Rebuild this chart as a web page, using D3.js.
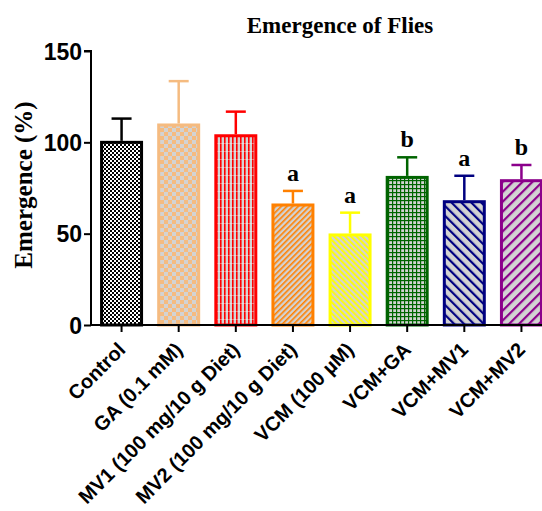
<!DOCTYPE html>
<html>
<head>
<meta charset="utf-8">
<script src="https://cdn.jsdelivr.net/npm/d3@7"></script>
<style>
  html, body { margin: 0; padding: 0; background: #fff; }
  svg { display: block; }
</style>
</head>
<body>
<svg id="chart" width="542" height="511"></svg>
<script>
// Groups, mean emergence (%) and SEM
const categories = [
  "Control",
  "GA (0.1 mM)",
  "MV1 (100 mg/10 g Diet)",
  "MV2 (100 mg/10 g Diet)",
  "VCM (100 \u00b5M)",
  "VCM+GA",
  "VCM+MV1",
  "VCM+MV2"
];
const means = [100, 109.5, 103.6, 65.7, 49.3, 80.8, 67.5, 79];
const sems = [13, 24, 13.2, 7.7, 12.2, 11, 14.2, 8.6];
const sigLetters = ["", "", "", "a", "a", "b", "a", "b"];
const yTicks = [0, 50, 100, 150];
const strokeColors = ["#000000", "#F5BB80", "#FF0000", "#FF8000", "#FFFF00", "#006400", "#000080", "#8B008B"];

const svg = d3.select("#chart");
const y = d3.scaleLinear().domain([0, 150]).range([325, 51]);
const x = d3.scaleBand().domain(categories).range([93, 550]).paddingInner(0.3).paddingOuter(0.15);

// Fill patterns, one per group
const defs = svg.append("defs");
const gray = "#D3D3D3";
function pat(id, w, h) {
  return defs.append("pattern").attr("id", id).attr("patternUnits", "userSpaceOnUse")
    .attr("width", w).attr("height", h);
}
// Control: fine black/white checkerboard
let p = pat("p0", 4, 4);
p.append("rect").attr("width", 4).attr("height", 4).attr("fill", "#fff");
p.append("rect").attr("width", 2).attr("height", 2).attr("fill", "#000");
p.append("rect").attr("x", 2).attr("y", 2).attr("width", 2).attr("height", 2).attr("fill", "#000");
// GA: orange/gray checkerboard
p = pat("p1", 8, 8);
p.append("rect").attr("width", 8).attr("height", 8).attr("fill", gray);
p.append("rect").attr("width", 4).attr("height", 4).attr("fill", "#F5BB80");
p.append("rect").attr("x", 4).attr("y", 4).attr("width", 4).attr("height", 4).attr("fill", "#F5BB80");
// MV1: vertical red lines
p = pat("p2", 4, 8);
p.append("rect").attr("width", 4).attr("height", 8).attr("fill", gray);
p.append("rect").attr("width", 1.6).attr("height", 8).attr("fill", "#FF0000");
p.append("rect").attr("y", 7).attr("width", 4).attr("height", 0.6).attr("fill", "#fff").attr("opacity", 0.6);
// MV2: thin orange "/" stripes
p = pat("p3", 4, 4).attr("patternTransform", "rotate(45)");
p.append("rect").attr("width", 4).attr("height", 4).attr("fill", gray);
p.append("rect").attr("width", 1.6).attr("height", 4).attr("fill", "#FF8000");
// VCM: yellow "\" stripes
p = pat("p4", 4, 4).attr("patternTransform", "rotate(-45)");
p.append("rect").attr("width", 4).attr("height", 4).attr("fill", gray);
p.append("rect").attr("width", 1.8).attr("height", 4).attr("fill", "#FFFF00");
// VCM+GA: green grid
p = pat("p5", 4, 4);
p.append("rect").attr("width", 4).attr("height", 4).attr("fill", gray);
p.append("rect").attr("width", 1.2).attr("height", 4).attr("fill", "#006400");
p.append("rect").attr("width", 4).attr("height", 1.2).attr("fill", "#006400");
// VCM+MV1: navy "\" stripes
p = pat("p6", 7, 7).attr("patternTransform", "rotate(-45)");
p.append("rect").attr("width", 7).attr("height", 7).attr("fill", gray);
p.append("rect").attr("width", 2.2).attr("height", 7).attr("fill", "#000080");
// VCM+MV2: purple "/" stripes
p = pat("p7", 7, 7).attr("patternTransform", "rotate(45)");
p.append("rect").attr("width", 7).attr("height", 7).attr("fill", gray);
p.append("rect").attr("width", 2.2).attr("height", 7).attr("fill", "#8B008B");

// Bars
svg.append("g").selectAll("rect").data(categories).join("rect")
  .attr("x", d => x(d))
  .attr("y", (d, i) => y(means[i]))
  .attr("width", x.bandwidth())
  .attr("height", (d, i) => y(0) - y(means[i]))
  .attr("fill", (d, i) => `url(#p${i})`)
  .attr("stroke", (d, i) => strokeColors[i])
  .attr("stroke-width", 3);

// Error bars (upper only)
const eb = svg.append("g").selectAll("g").data(categories).join("g")
  .attr("stroke", (d, i) => strokeColors[i]).attr("stroke-width", 2.5).attr("fill", "none");
eb.append("line")
  .attr("x1", d => x(d) + x.bandwidth() / 2).attr("x2", d => x(d) + x.bandwidth() / 2)
  .attr("y1", (d, i) => y(means[i]) - 1.5).attr("y2", (d, i) => y(means[i] + sems[i]));
eb.append("line")
  .attr("x1", d => x(d) + x.bandwidth() / 2 - 10).attr("x2", d => x(d) + x.bandwidth() / 2 + 10)
  .attr("y1", (d, i) => y(means[i] + sems[i])).attr("y2", (d, i) => y(means[i] + sems[i]));

// Significance letters
svg.append("g").selectAll("text").data(categories).join("text")
  .attr("x", d => x(d) + x.bandwidth() / 2)
  .attr("y", (d, i) => y(means[i] + sems[i]) - 10)
  .attr("text-anchor", "middle")
  .attr("font-family", "Liberation Serif, Times New Roman, serif")
  .attr("font-weight", "bold").attr("font-size", 24)
  .text((d, i) => sigLetters[i]);

// Y axis
const yAxis = svg.append("g").attr("transform", "translate(91,0)")
  .call(d3.axisLeft(y).tickValues(yTicks).tickSize(7).tickPadding(2));
yAxis.select(".domain").attr("stroke-width", 2).attr("d", `M-7,${y(150)}H0V${y(0)}`);
yAxis.selectAll(".tick line").attr("stroke-width", 2);
yAxis.selectAll(".tick text").attr("font-family", "Liberation Sans, Arial, sans-serif")
  .attr("font-weight", "bold").attr("font-size", 23).attr("fill", "#000").attr("dy", "0.35em");

// X axis
const xAxis = svg.append("g").attr("transform", `translate(0,${y(0)})`)
  .call(d3.axisBottom(x).tickSize(7).tickSizeOuter(0).tickPadding(3));
xAxis.select(".domain").attr("stroke-width", 2).attr("d", `M90,0H550`);
xAxis.selectAll(".tick line").attr("stroke-width", 2);
xAxis.selectAll(".tick text")
  .attr("font-family", "Liberation Sans, Arial, sans-serif")
  .attr("font-weight", "bold").attr("font-size", 20).attr("fill", "#000")
  .attr("text-anchor", "end")
  .attr("x", 0).attr("y", 0).attr("dy", 0)
  .attr("transform", "translate(5,26) rotate(-45)");

// Title
svg.append("text").attr("x", 340).attr("y", 33).attr("text-anchor", "middle")
  .attr("font-family", "Liberation Serif, Times New Roman, serif")
  .attr("font-weight", "bold").attr("font-size", 23).text("Emergence of Flies");

// Y axis title
svg.append("text").attr("transform", "translate(32,185) rotate(-90)").attr("text-anchor", "middle")
  .attr("font-family", "Liberation Serif, Times New Roman, serif")
  .attr("font-weight", "bold").attr("font-size", 25).text("Emergence (%)");
</script>
</body>
</html>
